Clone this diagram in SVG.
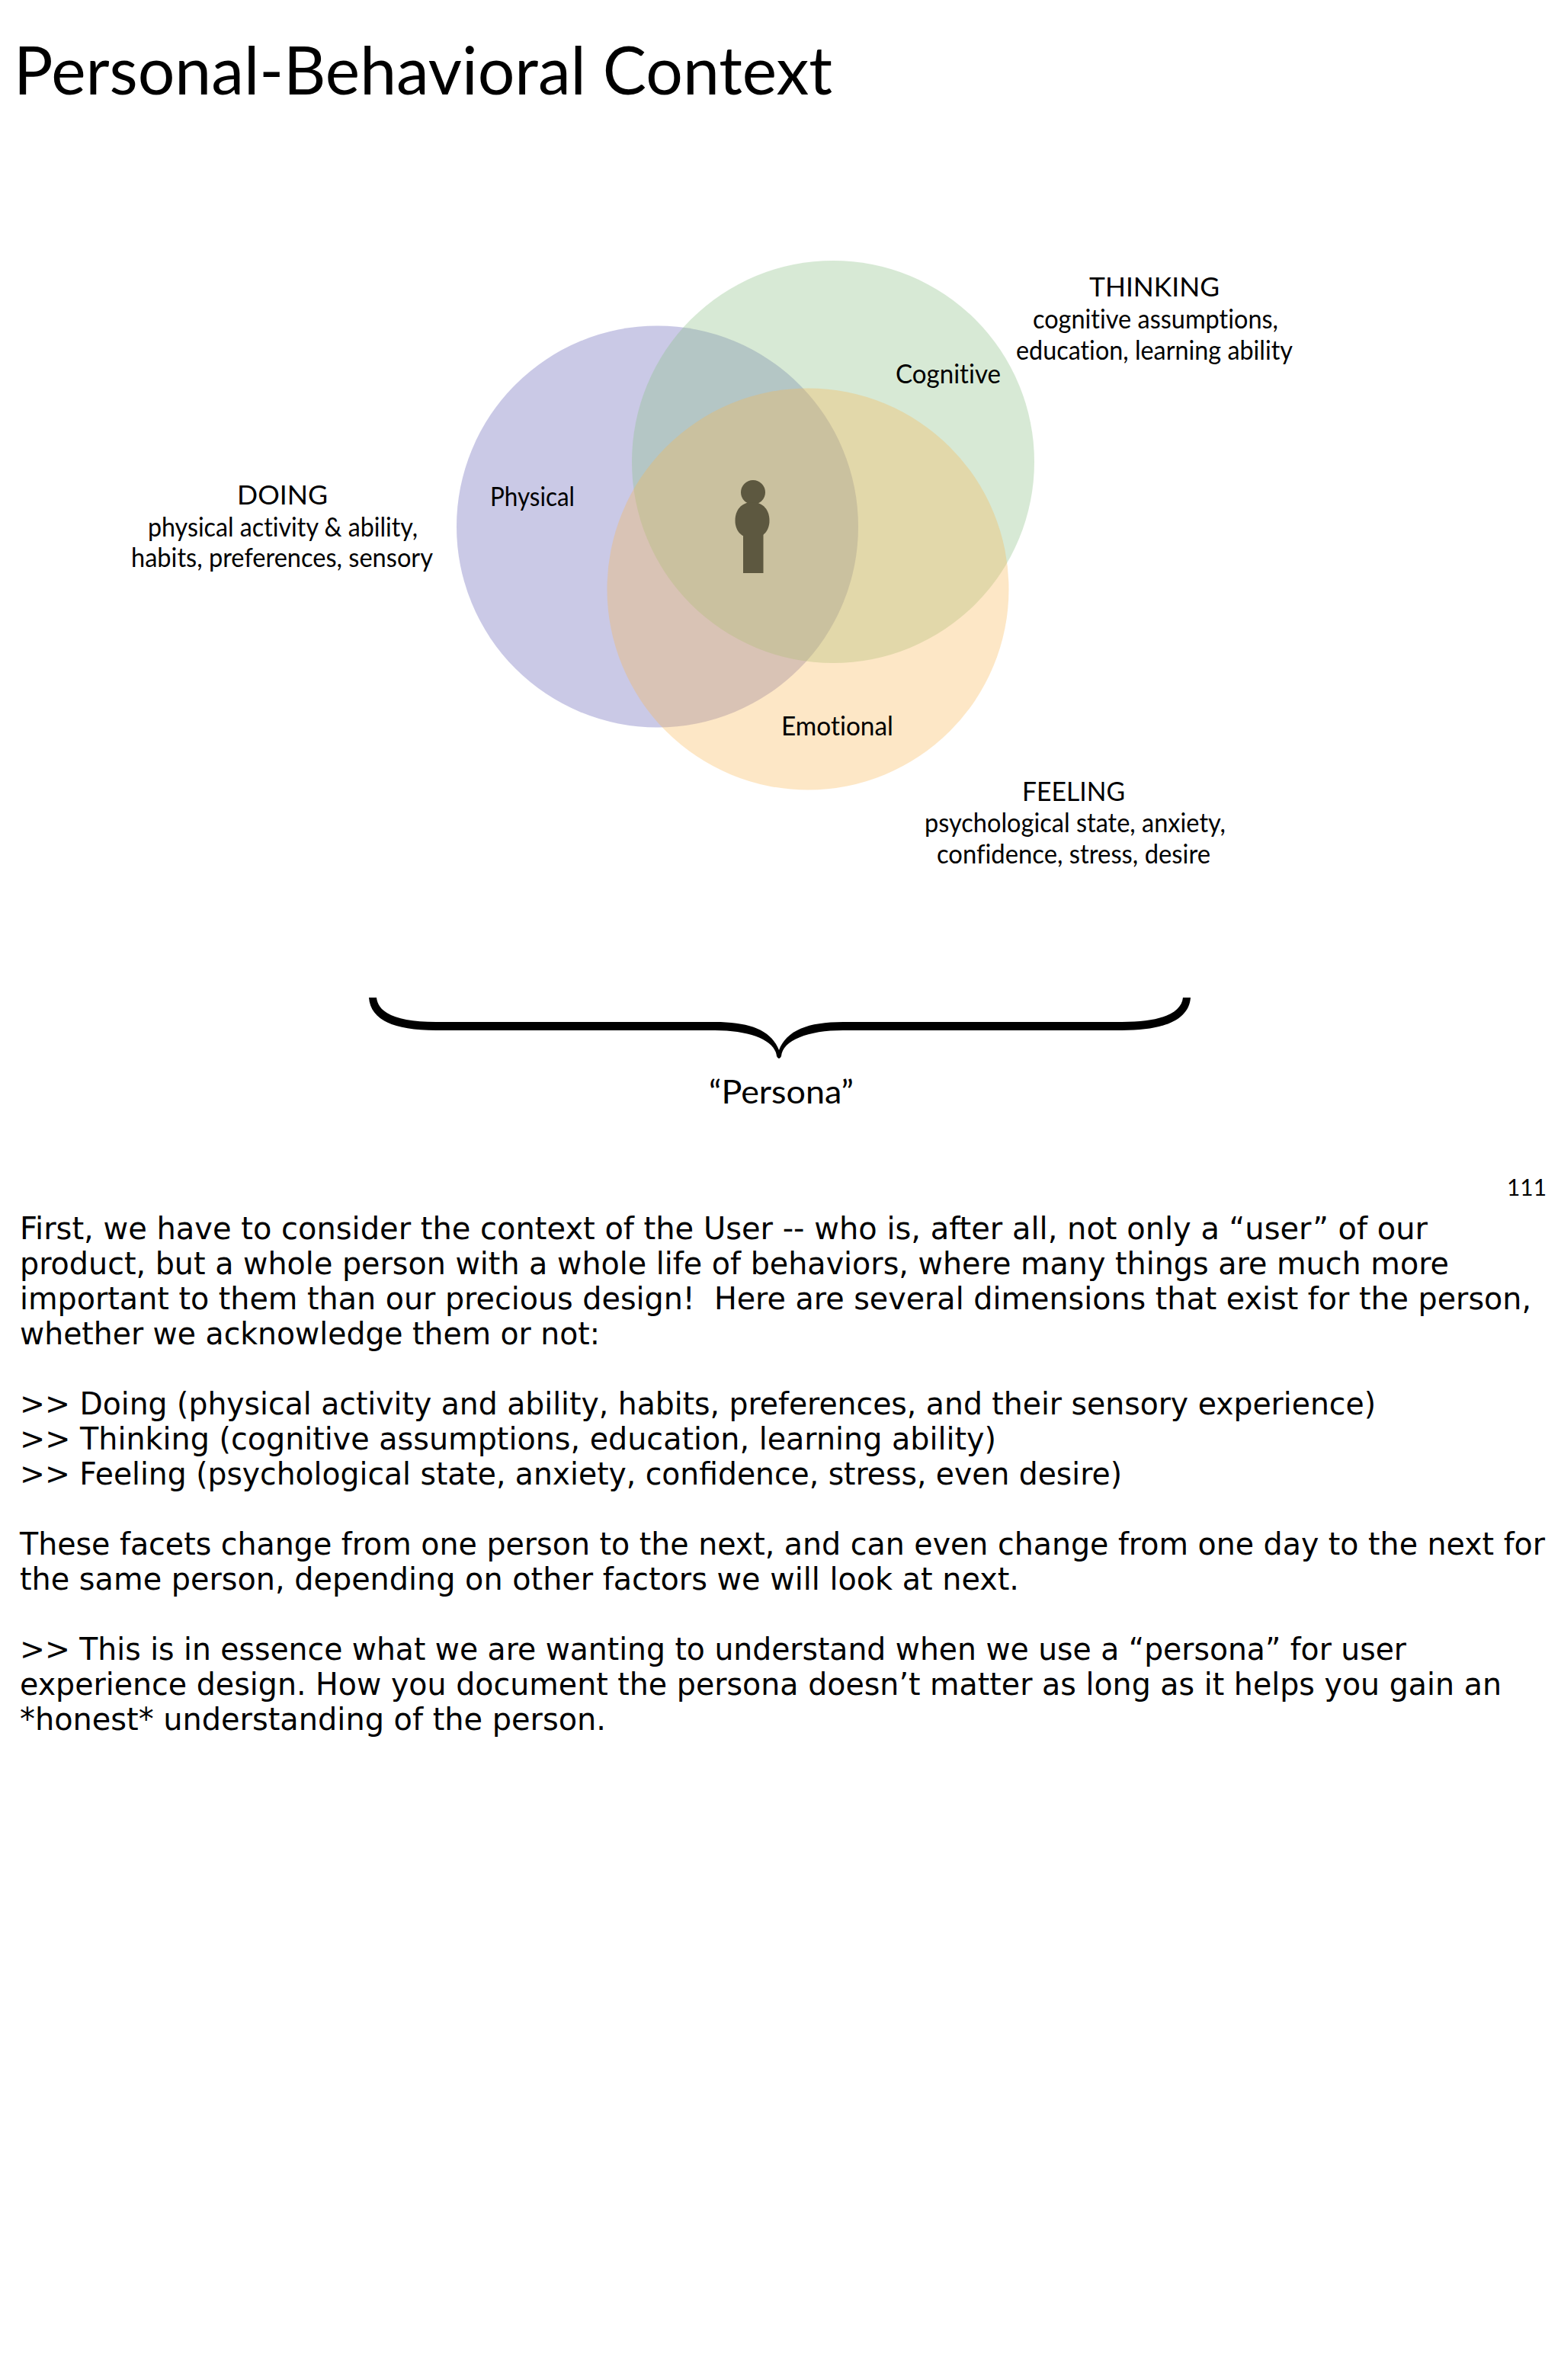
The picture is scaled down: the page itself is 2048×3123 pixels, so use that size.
<svg xmlns="http://www.w3.org/2000/svg" width="2048" height="3123" viewBox="0 0 2048 3123">
<style>
.g{font-family:"Lato","Open Sans","Liberation Sans",sans-serif;fill:#000;font-variant-ligatures:none}
.h{font-size:34px;text-anchor:start}
.b{font-family:"DejaVu Sans","Liberation Sans",sans-serif;font-size:40px;fill:#000;white-space:pre}
</style>
<rect width="2048" height="3123" fill="#fff"/>
<text class="g" x="18" y="124" font-size="88" textLength="1074" lengthAdjust="spacingAndGlyphs">Personal-Behavioral Context</text>
<g id="physical"><circle cx="862.500" cy="691" r="263.500" fill="#6462b5" fill-opacity=".34"/></g>
<g id="cognitive"><circle cx="1093" cy="606" r="264" fill="#8dc087" fill-opacity=".35"/></g>
<g id="emotional"><circle cx="1060" cy="773" r="263.500" fill="#f9b551" fill-opacity=".33"/></g>
<g id="person" fill="#5d5840">
<circle cx="988" cy="646" r="16"/>
<path d="M987 659C1002 659 1009.500 670 1009.500 683C1009.500 696 1002 706 987 706C972 706 964.500 696 964.500 683C964.500 670 972 659 987 659Z"/>
<rect x="975" y="695" width="26.500" height="57"/>
</g>
<g id="labels">
<text class="g h" x="643" y="664" textLength="111" lengthAdjust="spacingAndGlyphs">Physical</text>
<text class="g h" x="1175" y="503" textLength="138" lengthAdjust="spacingAndGlyphs">Cognitive</text>
<text class="g h" x="1025" y="965" textLength="147" lengthAdjust="spacingAndGlyphs">Emotional</text>
<text class="g h" x="1429" y="389" textLength="171" lengthAdjust="spacingAndGlyphs">THINKING</text>
<text class="g h" x="1355" y="431" textLength="322" lengthAdjust="spacingAndGlyphs">cognitive assumptions,</text>
<text class="g h" x="1333" y="472" textLength="363" lengthAdjust="spacingAndGlyphs">education, learning ability</text>
<text class="g h" x="311" y="662" textLength="119" lengthAdjust="spacingAndGlyphs">DOING</text>
<text class="g h" x="194" y="704" textLength="354" lengthAdjust="spacingAndGlyphs">physical activity &amp; ability,</text>
<text class="g h" x="172" y="744" textLength="396" lengthAdjust="spacingAndGlyphs">habits, preferences, sensory</text>
<text class="g h" x="1341" y="1051" textLength="135" lengthAdjust="spacingAndGlyphs">FEELING</text>
<text class="g h" x="1213" y="1092" textLength="395" lengthAdjust="spacingAndGlyphs">psychological state, anxiety,</text>
<text class="g h" x="1229" y="1133" textLength="359" lengthAdjust="spacingAndGlyphs">confidence, stress, desire</text>
</g>
<g id="connectors">
<path id="brace" fill="#000" d="M484 1309H494C496 1329 520 1341 572 1341H938C984 1341 1012 1352 1022 1378C1032 1352 1060 1341 1106 1341H1472C1524 1341 1550 1329 1552 1309H1562C1560 1337 1530 1352 1472 1352H1106C1060 1352 1027 1365 1025 1386Q1022 1392 1019 1386C1017 1365 984 1352 938 1352H572C514 1352 486 1337 484 1309Z"/>
</g>
<text class="g" x="930" y="1448" font-size="42" textLength="190" lengthAdjust="spacingAndGlyphs">“Persona”</text>
<text class="g" x="1977" y="1569" font-size="30" textLength="52" lengthAdjust="spacingAndGlyphs">111</text>
<g id="notes">
<text class="b" x="26" y="1626" textLength="1847" lengthAdjust="spacingAndGlyphs">First, we have to consider the context of the User -- who is, after all, not only a “user” of our</text>
<text class="b" x="26" y="1672" textLength="1875" lengthAdjust="spacingAndGlyphs">product, but a whole person with a whole life of behaviors, where many things are much more</text>
<text class="b" x="26" y="1718" textLength="1983" lengthAdjust="spacingAndGlyphs">important to them than our precious design!  Here are several dimensions that exist for the person,</text>
<text class="b" x="26" y="1764" textLength="761" lengthAdjust="spacingAndGlyphs">whether we acknowledge them or not:</text>
<text class="b" x="26" y="1856" textLength="1779" lengthAdjust="spacingAndGlyphs">&gt;&gt; Doing (physical activity and ability, habits, preferences, and their sensory experience)</text>
<text class="b" x="26" y="1902" textLength="1281" lengthAdjust="spacingAndGlyphs">&gt;&gt; Thinking (cognitive assumptions, education, learning ability)</text>
<text class="b" x="26" y="1948" textLength="1446" lengthAdjust="spacingAndGlyphs">&gt;&gt; Feeling (psychological state, anxiety, confidence, stress, even desire)</text>
<text class="b" x="26" y="2040" textLength="2001" lengthAdjust="spacingAndGlyphs">These facets change from one person to the next, and can even change from one day to the next for</text>
<text class="b" x="26" y="2086" textLength="1311" lengthAdjust="spacingAndGlyphs">the same person, depending on other factors we will look at next.</text>
<text class="b" x="26" y="2178" textLength="1819" lengthAdjust="spacingAndGlyphs">&gt;&gt; This is in essence what we are wanting to understand when we use a “persona” for user</text>
<text class="b" x="26" y="2224" textLength="1944" lengthAdjust="spacingAndGlyphs">experience design. How you document the persona doesn’t matter as long as it helps you gain an</text>
<text class="b" x="26" y="2270" textLength="769" lengthAdjust="spacingAndGlyphs">*honest* understanding of the person.</text>
</g>
</svg>
